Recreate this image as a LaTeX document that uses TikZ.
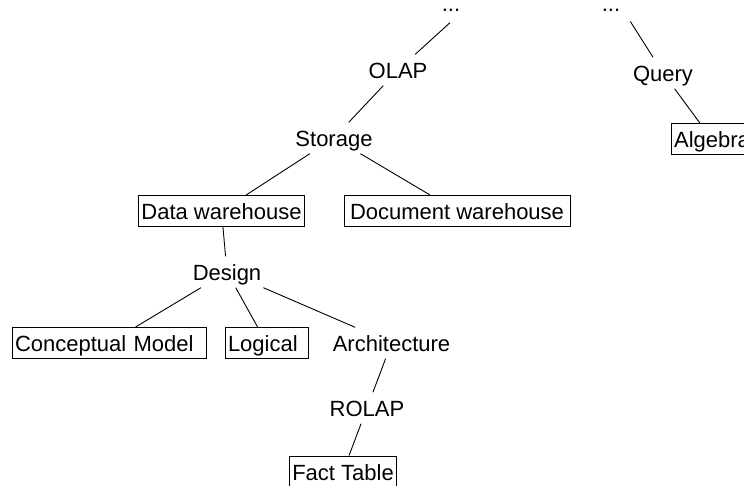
\documentclass[tikz,border=0pt]{standalone}
\usepackage{fontspec}
\setmainfont{Liberation Sans}
\usetikzlibrary{positioning}

\begin{document}
\begin{tikzpicture}[
  on grid,
  topic/.style={rectangle, inner xsep=3pt, inner ysep=3pt, minimum height=31pt,
               text height=21pt, text depth=4pt, font=\fontsize{22}{26}\selectfont},
  leaf/.style={topic, draw=black, line width=1pt},
  wideleaf/.style={leaf, text width=#1, align=left},
  more/.style={topic, minimum height=0pt, text height=3pt, text depth=0pt},
  link/.style={-, line width=0.9pt, color=black},
]
  \useasboundingbox (0,0) rectangle (744pt,-486pt);

  \node[more] (dotsL) at (451pt,-10.5pt) {...};
  \node[more, right=160pt of dotsL] (dotsR) {...};

  % left branch
  \node[topic, below left=59.5pt and 53pt of dotsL] (olap) {OLAP};
  \node[topic, below left=68pt and 64pt of olap] (storage) {Storage};
  \node[leaf, below left=73pt and 112.5pt of storage] (dw) {Data warehouse};
  \node[leaf, minimum width=226pt, below right=73pt and 123pt of storage] (docw) {Document warehouse};
  \node[topic, below right=61pt and 5.5pt of dw] (design) {Design};
  \node[wideleaf=188pt, below left=71pt and 118pt of design] (cm) {Conceptual Model};
  \node[wideleaf=77pt, below right=71pt and 39.5pt of design] (logical) {Logical};
  \node[topic, below right=71pt and 164.5pt of design] (arch) {Architecture};
  \node[topic, below left=65pt and 24.5pt of arch] (rolap) {ROLAP};
  \node[leaf, below left=63.5pt and 24pt of rolap] (fact) {Fact Table};

  % right branch
  \node[topic, below right=62.5pt and 52pt of dotsR] (query) {Query};
  \node[leaf, below right=66.5pt and 49pt of query] (algebra) {Algebra};

  \draw[link, shorten <=18pt] (dotsL.east) -- (olap);
  \draw[link] (olap) -- (storage);
  \draw[link] (storage) -- (dw);
  \draw[link] (storage) -- (docw);
  \draw[link] (dw) -- (design);
  \draw[link] (design) -- (cm);
  \draw[link] (design) -- (logical);
  \draw[link] (design) -- (arch);
  \draw[link] (arch) -- (rolap);
  \draw[link] (rolap) -- (fact);
  \draw[link, shorten <=13pt] (dotsR.east) -- (query);
  \draw[link] (query) -- (algebra);
\end{tikzpicture}
\end{document}
